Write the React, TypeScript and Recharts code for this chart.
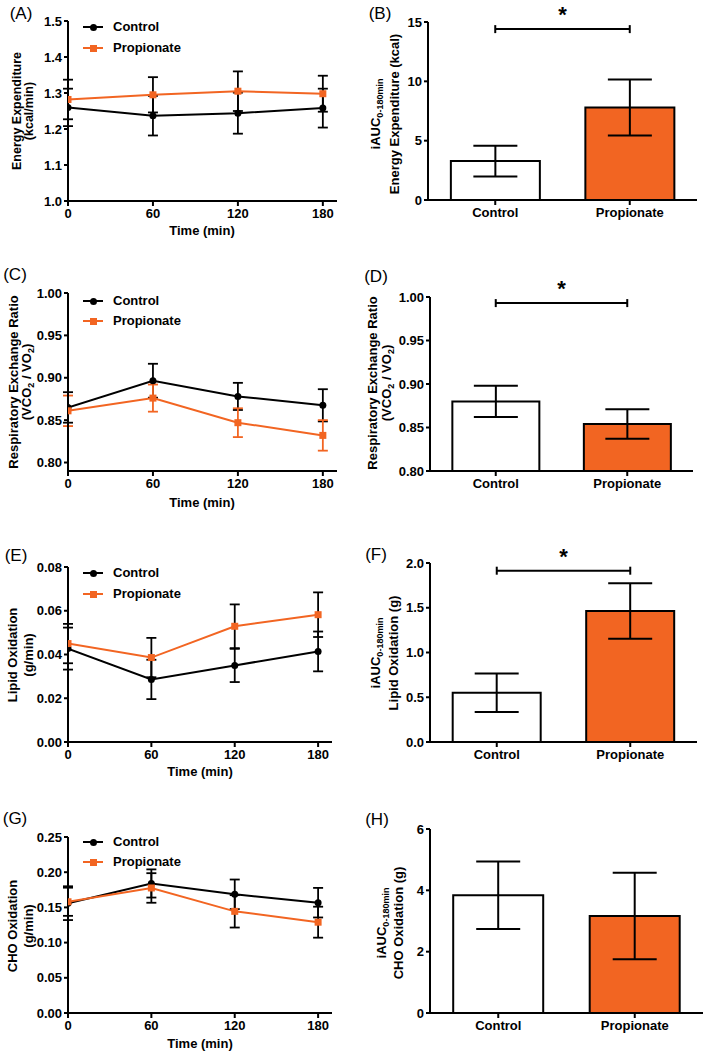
import React from "react";
import { LineChart, Line, BarChart, Bar, Cell, XAxis, YAxis, ErrorBar, ReferenceLine } from "recharts";

const ORANGE = "#f26522";
const FONT = "'Liberation Sans', Arial, sans-serif";

const times = [0, 60, 120, 180];
const groups = ["Control", "Propionate"];

// (A) energy expenditure, kcal/min
const eeControl = [1.26, 1.237, 1.244, 1.258];
const eeControlSem = [0.052, 0.055, 0.057, 0.054];
const eePropionate = [1.282, 1.295, 1.305, 1.298];
const eePropionateSem = [0.055, 0.049, 0.055, 0.05];
// (B) iAUC energy expenditure, kcal
const eeAuc = [3.28, 7.79];
const eeAucSem = [1.29, 2.36];

// (C) RER
const rerControl = [0.865, 0.8965, 0.878, 0.8675];
const rerControlSem = [0.018, 0.02, 0.016, 0.019];
const rerPropionate = [0.861, 0.876, 0.847, 0.832];
const rerPropionateSem = [0.018, 0.016, 0.017, 0.018];
// (D) mean RER
const rerMean = [0.88, 0.854];
const rerMeanSem = [0.018, 0.017];

// (E) lipid oxidation, g/min
const lipidControl = [0.0427, 0.0286, 0.035, 0.0414];
const lipidControlSem = [0.0096, 0.009, 0.0076, 0.0091];
const lipidPropionate = [0.045, 0.0386, 0.0529, 0.0582];
const lipidPropionateSem = [0.009, 0.009, 0.01, 0.0102];
// (F) iAUC lipid oxidation, g
const lipidAuc = [0.55, 1.465];
const lipidAucSem = [0.215, 0.31];

// (G) CHO oxidation, g/min
const choControl = [0.156, 0.184, 0.1686, 0.1567];
const choControlSem = [0.024, 0.02, 0.021, 0.021];
const choPropionate = [0.158, 0.1776, 0.1444, 0.129];
const choPropionateSem = [0.02, 0.021, 0.023, 0.022];
// (H) iAUC CHO oxidation, g
const choAuc = [3.84, 3.16];
const choAucSem = [1.1, 1.41];

const timeRows = (c: number[], ce: number[], p: number[], pe: number[]) =>
  times.map((t, i) => ({ t, ctrl: c[i], ctrlErr: ce[i], prop: p[i], propErr: pe[i] }));

const groupRows = (v: number[], e: number[]) => groups.map((name, i) => ({ name, value: v[i], sem: e[i] }));

const tickStyle = { fill: "#000", fontSize: 13, fontWeight: 700, fontFamily: FONT };
const axisStyle = { stroke: "#000", strokeWidth: 2 };

const SquareDot = (props: any) => {
  const { cx, cy, index } = props;
  if (cx == null || cy == null) return <g key={`sq-${index}`} />;
  return <rect key={`sq-${index}`} x={cx - 3.5} y={cy - 3.5} width={7} height={7} fill={ORANGE} />;
};

function LinePanel({ top, plotTop, plotBottom, plotRight, domain, ticks, digits, rows, propErrColor }: any) {
  const h = plotBottom - top + 34;
  return (
    <div style={{ position: "absolute", left: 0, top }}>
      <LineChart width={plotRight + 10} height={h} data={rows} margin={{ top: plotTop - top, right: 10, bottom: 0, left: 8 }}>
        <XAxis
          dataKey="t"
          type="number"
          domain={[0, 190]}
          ticks={times}
          allowDataOverflow
          height={34}
          tick={tickStyle}
          tickSize={5}
          tickMargin={3}
          axisLine={axisStyle}
          tickLine={axisStyle}
        />
        <YAxis
          type="number"
          domain={domain}
          ticks={ticks}
          allowDataOverflow
          width={60}
          tickFormatter={(v: number) => v.toFixed(digits)}
          tick={tickStyle}
          tickSize={4}
          tickMargin={2}
          axisLine={axisStyle}
          tickLine={axisStyle}
        />
        <Line dataKey="ctrl" stroke="#000" strokeWidth={2} dot={{ r: 3.5, fill: "#000", stroke: "#000", strokeWidth: 0 }} isAnimationActive={false}>
          <ErrorBar dataKey="ctrlErr" width={5} stroke="#000" strokeWidth={1.8} />
        </Line>
        <Line dataKey="prop" stroke={ORANGE} strokeWidth={2} dot={SquareDot} isAnimationActive={false}>
          <ErrorBar dataKey="propErr" width={5} stroke={propErrColor} strokeWidth={1.8} />
        </Line>
      </LineChart>
    </div>
  );
}

function BarPanel({ top, plotTop, plotBottom, plotLeft, plotRight, domain, ticks, digits, rows, sig }: any) {
  const left = 360;
  const h = plotBottom - top + 34;
  const half = ((domain[1] - domain[0]) * 4) / (plotBottom - plotTop);
  return (
    <div style={{ position: "absolute", left, top }}>
      <BarChart
        width={plotRight - left + 8}
        height={h}
        data={rows}
        margin={{ top: plotTop - top, right: 8, bottom: 0, left: 8 }}
        barCategoryGap="17%"
      >
        <XAxis dataKey="name" height={34} tick={tickStyle} tickSize={5} tickMargin={3} axisLine={axisStyle} tickLine={axisStyle} />
        <YAxis
          type="number"
          domain={domain}
          ticks={ticks}
          allowDataOverflow
          width={plotLeft - left - 8}
          tickFormatter={(v: number) => v.toFixed(digits)}
          tick={tickStyle}
          tickSize={4}
          tickMargin={2}
          axisLine={axisStyle}
          tickLine={axisStyle}
        />
        <Bar dataKey="value" stroke="#000" strokeWidth={2} isAnimationActive={false}>
          {rows.map((r: any, i: number) => (
            <Cell key={r.name} fill={i === 0 ? "#fff" : ORANGE} />
          ))}
          <ErrorBar dataKey="sem" width={22} stroke="#000" strokeWidth={2} />
        </Bar>
        {sig != null && (
          <ReferenceLine
            segment={[{ x: groups[0], y: sig }, { x: groups[1], y: sig }]}
            stroke="#000"
            strokeWidth={2}
            label={{ value: "*", position: "top", offset: 7, fill: "#000", fontSize: 22, fontWeight: 700, fontFamily: FONT }}
          />
        )}
        {sig != null &&
          groups.map((g) => (
            <ReferenceLine key={g} segment={[{ x: g, y: sig - half }, { x: g, y: sig + half }]} stroke="#000" strokeWidth={2} />
          ))}
      </BarChart>
    </div>
  );
}

function Txt({ x, y, rot, size = 13, weight = 700, children }: any) {
  return (
    <div
      style={{
        position: "absolute",
        left: x,
        top: y,
        transform: `translate(-50%, -50%)${rot ? " rotate(-90deg)" : ""}`,
        whiteSpace: "nowrap",
        fontSize: size,
        fontWeight: weight,
        fontFamily: FONT,
        lineHeight: 1,
        color: "#000",
      }}
    >
      {children}
    </div>
  );
}

function Legend({ y1, y2 }: any) {
  return (
    <>
      <div style={{ position: "absolute", left: 83, top: y1 - 1, width: 20, height: 2, background: "#000" }} />
      <div style={{ position: "absolute", left: 89.5, top: y1 - 3.5, width: 7, height: 7, borderRadius: 4, background: "#000" }} />
      <div style={{ position: "absolute", left: 113, top: y1 - 8, fontSize: 13, fontWeight: 700, fontFamily: FONT, lineHeight: "16px" }}>Control</div>
      <div style={{ position: "absolute", left: 83, top: y2 - 1, width: 20, height: 2, background: ORANGE }} />
      <div style={{ position: "absolute", left: 89.5, top: y2 - 3.5, width: 7, height: 7, background: ORANGE }} />
      <div style={{ position: "absolute", left: 113, top: y2 - 8, fontSize: 13, fontWeight: 700, fontFamily: FONT, lineHeight: "16px" }}>Propionate</div>
    </>
  );
}

const sub = (s: string, size = 9) => <sub style={{ fontSize: size, verticalAlign: "-0.25em" }}>{s}</sub>;

export default function App() {
  return (
    <div style={{ position: "absolute", left: 0, top: 0, width: 709, height: 1052, background: "#fff", fontFamily: FONT }}>
      {/* row 1 */}
      <LinePanel
        top={0}
        plotTop={21}
        plotBottom={201}
        plotRight={337}
        domain={[1.0, 1.5]}
        ticks={[1.0, 1.1, 1.2, 1.3, 1.4, 1.5]}
        digits={1}
        rows={timeRows(eeControl, eeControlSem, eePropionate, eePropionateSem)}
        propErrColor="#000"
      />
      <BarPanel top={0} plotTop={22} plotBottom={200} plotLeft={428} plotRight={697} domain={[0, 15]} ticks={[0, 5, 10, 15]} digits={0} rows={groupRows(eeAuc, eeAucSem)} sig={14.4} />

      {/* row 2 */}
      <LinePanel
        top={250}
        plotTop={293}
        plotBottom={471}
        plotRight={337}
        domain={[0.79, 1.0]}
        ticks={[0.8, 0.85, 0.9, 0.95, 1.0]}
        digits={2}
        rows={timeRows(rerControl, rerControlSem, rerPropionate, rerPropionateSem)}
        propErrColor={ORANGE}
      />
      <BarPanel top={250} plotTop={297} plotBottom={471} plotLeft={430} plotRight={693} domain={[0.8, 1.0]} ticks={[0.8, 0.85, 0.9, 0.95, 1.0]} digits={2} rows={groupRows(rerMean, rerMeanSem)} sig={0.993} />

      {/* row 3 */}
      <LinePanel
        top={520}
        plotTop={567}
        plotBottom={742}
        plotRight={332}
        domain={[0, 0.08]}
        ticks={[0, 0.02, 0.04, 0.06, 0.08]}
        digits={2}
        rows={timeRows(lipidControl, lipidControlSem, lipidPropionate, lipidPropionateSem)}
        propErrColor="#000"
      />
      <BarPanel top={520} plotTop={563} plotBottom={742} plotLeft={430} plotRight={697} domain={[0, 2]} ticks={[0, 0.5, 1, 1.5, 2]} digits={1} rows={groupRows(lipidAuc, lipidAucSem)} sig={1.914} />

      {/* row 4 */}
      <LinePanel
        top={780}
        plotTop={837}
        plotBottom={1013}
        plotRight={332}
        domain={[0, 0.25]}
        ticks={[0, 0.05, 0.1, 0.15, 0.2, 0.25]}
        digits={2}
        rows={timeRows(choControl, choControlSem, choPropionate, choPropionateSem)}
        propErrColor="#000"
      />
      <BarPanel top={780} plotTop={829} plotBottom={1013} plotLeft={430} plotRight={703} domain={[0, 6]} ticks={[0, 2, 4, 6]} digits={0} rows={groupRows(choAuc, choAucSem)} />

      {/* panel letters */}
      <Txt x={21} y={13} size={17} weight={400}>(A)</Txt>
      <Txt x={380} y={13} size={17} weight={400}>(B)</Txt>
      <Txt x={15} y={274} size={17} weight={400}>(C)</Txt>
      <Txt x={376} y={276} size={17} weight={400}>(D)</Txt>
      <Txt x={16} y={555} size={17} weight={400}>(E)</Txt>
      <Txt x={376} y={554} size={17} weight={400}>(F)</Txt>
      <Txt x={15} y={818} size={17} weight={400}>(G)</Txt>
      <Txt x={377} y={819} size={17} weight={400}>(H)</Txt>

      {/* legends */}
      <Legend y1={27} y2={48} />
      <Legend y1={301} y2={321} />
      <Legend y1={573} y2={594} />
      <Legend y1={842} y2={862} />

      {/* x titles */}
      <Txt x={202} y={230}>Time (min)</Txt>
      <Txt x={202} y={502}>Time (min)</Txt>
      <Txt x={200} y={771}>Time (min)</Txt>
      <Txt x={200} y={1043}>Time (min)</Txt>

      {/* y titles, left */}
      <Txt x={17} y={111} rot size={12.5}>Energy Expenditure</Txt>
      <Txt x={29} y={111} rot size={12.5}>(kcal/min)</Txt>
      <Txt x={13} y={382} rot>Respiratory Exchange Ratio</Txt>
      <Txt x={28} y={382} rot>(VCO{sub("2")} / VO{sub("2")})</Txt>
      <Txt x={12} y={655} rot>Lipid Oxidation</Txt>
      <Txt x={28} y={655} rot>(g/min)</Txt>
      <Txt x={12} y={926} rot>CHO Oxidation</Txt>
      <Txt x={28} y={926} rot>(g/min)</Txt>

      {/* y titles, right */}
      <Txt x={377} y={114} rot>iAUC{sub("0-180min")}</Txt>
      <Txt x={394} y={114} rot>Energy Expenditure (kcal)</Txt>
      <Txt x={372} y={383} rot>Respiratory Exchange Ratio</Txt>
      <Txt x={388} y={383} rot>(VCO{sub("2")} / VO{sub("2")})</Txt>
      <Txt x={377} y={653} rot>iAUC{sub("0-180min")}</Txt>
      <Txt x={393} y={653} rot>Lipid Oxidation (g)</Txt>
      <Txt x={383} y={923} rot>iAUC{sub("0-180min")}</Txt>
      <Txt x={398} y={923} rot>CHO Oxidation (g)</Txt>
    </div>
  );
}
